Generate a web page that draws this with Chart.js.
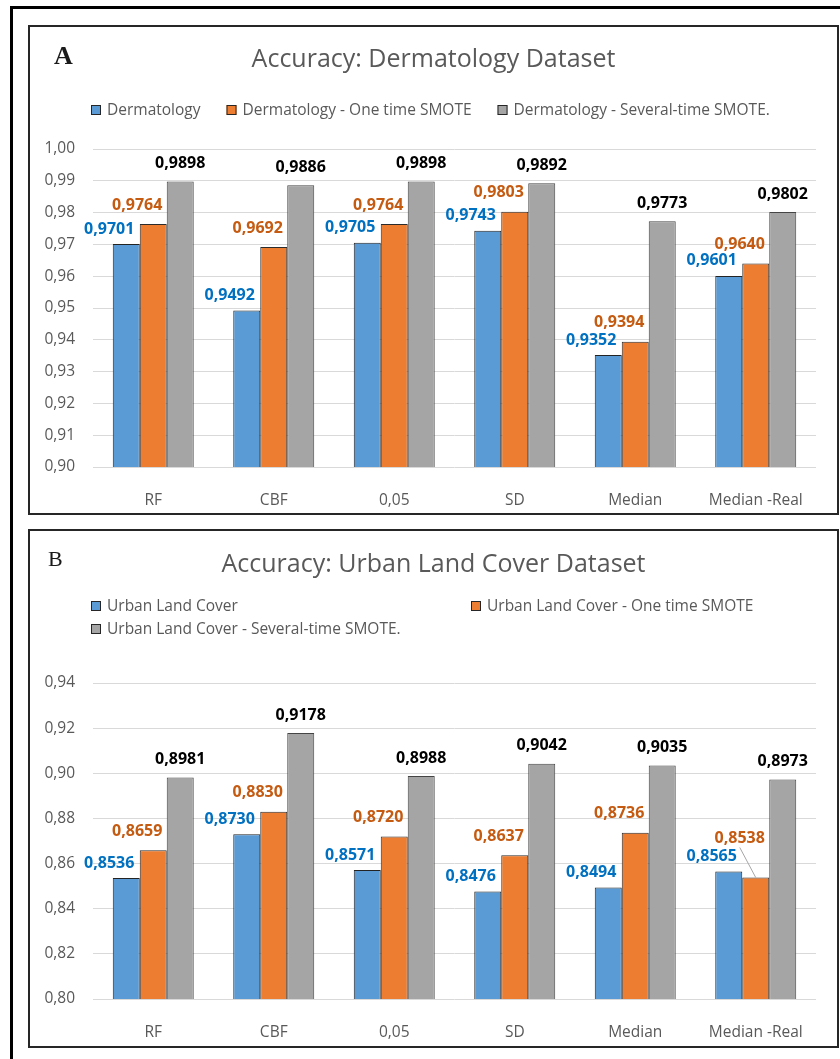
<!DOCTYPE html>
<html>
<head>
<meta charset="utf-8">
<title>Accuracy charts</title>
<script src="https://cdn.jsdelivr.net/npm/chart.js@4.4.1/dist/chart.umd.min.js"></script>
<style>
    body { margin: 0; background: #fff; width: 840px; height: 1059px; overflow: hidden; position: relative; }
    #frame { position: absolute; left: 10px; top: 6px; width: 900px; height: 1100px; border: 3px solid #000; }
    .panel { position: absolute; left: 28px; width: 811px; border: 2px solid #262626; box-sizing: border-box; background: #fff; }
    #panelA { top: 25px; height: 490px; }
    #panelB { top: 529px; height: 519px; }
    .tag { position: absolute; font-family: 'Liberation Serif', serif; color: #1a1a1a; line-height: 1; z-index: 2; }
    #tagA { left: 24px; top: 16px; font-size: 26px; font-weight: bold; }
    #tagB { left: 18px; top: 17px; font-size: 22px; }
    canvas { position: absolute; left: 0; top: 0; }
</style>
</head>
<body>
<div id="frame"></div>
<div class="panel" id="panelA">
    <div class="tag" id="tagA">A</div>
    <canvas id="chartA" width="807" height="486"></canvas>
</div>
<div class="panel" id="panelB">
    <div class="tag" id="tagB">B</div>
    <canvas id="chartB" width="807" height="515"></canvas>
</div>
<script>
// categories shared by both charts
const categories = ['RF', 'CBF', '0,05', 'SD', 'Median', 'Median -Real'];

// panel A - Dermatology
const dermaNames = ['Dermatology', 'Dermatology - One time SMOTE', 'Dermatology - Several-time SMOTE.'];
const dermaBase = [0.9701, 0.9492, 0.9705, 0.9743, 0.9352, 0.9601];
const dermaOnce = [0.9764, 0.9692, 0.9764, 0.9803, 0.9394, 0.9640];
const dermaSeveral = [0.9898, 0.9886, 0.9898, 0.9892, 0.9773, 0.9802];
const dermaTicks = [0.90, 0.91, 0.92, 0.93, 0.94, 0.95, 0.96, 0.97, 0.98, 0.99, 1.00];

// panel B - Urban Land Cover
const urbanNames = ['Urban Land Cover', 'Urban Land Cover - One time SMOTE', 'Urban Land Cover - Several-time SMOTE.'];
const urbanBase = [0.8536, 0.8730, 0.8571, 0.8476, 0.8494, 0.8565];
const urbanOnce = [0.8659, 0.8830, 0.8720, 0.8637, 0.8736, 0.8538];
const urbanSeveral = [0.8981, 0.9178, 0.8988, 0.9042, 0.9035, 0.8973];
const urbanTicks = [0.80, 0.82, 0.84, 0.86, 0.88, 0.90, 0.92, 0.94];

const fillColors = ['#5B9BD5', '#ED7D31', '#A5A5A5'];
const edgeColors = ['#232323', '#2b2b2b', '#454545'];
const labelColors = ['#0070C0', '#C55A11', '#000000'];
const FONT = "'Open Sans', sans-serif";

const comma = (v, d) => v.toFixed(d).replace('.', ',');

// value labels above each bar, pushed up when two of them collide
const barLabels = {
    id: 'barLabels',
    afterDatasetsDraw(chart, args, opts) {
        const ctx = chart.ctx;
        const h = opts.boxHeight;
        const placed = {};
        ctx.save();
        ctx.font = opts.font;
        ctx.textAlign = 'center';
        ctx.textBaseline = 'middle';
        chart.data.datasets.forEach((ds, di) => {
            const off = opts.offsets[di];
            chart.getDatasetMeta(di).data.forEach((bar, i) => {
                const text = comma(ds.data[i], 4);
                const w = ctx.measureText(text).width;
                const cx = bar.x + off.dx;
                let cy = bar.y + off.dy;
                let moved = false;
                const list = placed[i] || (placed[i] = []);
                list.forEach(r => {
                    if (Math.abs(cx - r.cx) < (w + r.w) / 2 && Math.abs(cy - r.cy) < h) {
                        cy = r.cy - h - 2;
                        moved = true;
                    }
                });
                list.push({ cx, cy, w });
                if (moved) {   // leader line back to the bar top
                    ctx.strokeStyle = '#a6a6a6';
                    ctx.lineWidth = 1;
                    ctx.beginPath();
                    ctx.moveTo(cx, cy + h / 2 + 1);
                    ctx.lineTo(bar.x, bar.y);
                    ctx.stroke();
                }
                ctx.fillStyle = labelColors[di];
                ctx.fillText(text, cx, cy);
            });
        });
        ctx.restore();
    }
};

// Excel-like legend: flowing row, or fixed columns
const panelLegend = {
    id: 'panelLegend',
    afterDraw(chart, args, opts) {
        const ctx = chart.ctx;
        ctx.save();
        ctx.font = opts.font;
        ctx.textAlign = 'left';
        ctx.textBaseline = 'middle';
        let x = opts.x, y = opts.y;
        chart.data.datasets.forEach((ds, i) => {
            if (opts.colX) {
                x = opts.colX[i % opts.colX.length];
                y = opts.y + Math.floor(i / opts.colX.length) * opts.rowHeight;
            }
            ctx.fillStyle = ds.backgroundColor;
            ctx.fillRect(x, y - 5, 10, 10);
            ctx.strokeStyle = '#262626';
            ctx.lineWidth = 1;
            ctx.strokeRect(x + 0.5, y - 4.5, 9, 9);
            ctx.fillStyle = '#595959';
            ctx.fillText(ds.label, x + 16, y + 1);
            x += 16 + ctx.measureText(ds.label).width + opts.gap;
        });
        ctx.restore();
    }
};

function createChart(id, title, names, series, ticks, lay) {
    const ctx = document.getElementById(id);
    return new Chart(ctx, {
        type: 'bar',
        data: {
            labels: categories,
            datasets: series.map((vals, i) => ({
                label: names[i],
                data: vals,
                backgroundColor: fillColors[i],
                borderColor: edgeColors[i],
                borderWidth: 1,
                categoryPercentage: 0.672,
                barPercentage: 1.0
            }))
        },
        options: {
            responsive: false,
            animation: false,
            devicePixelRatio: 1,
            layout: { padding: 0 },
            scales: {
                x: {
                    grid: { display: false },
                    border: { display: false },
                    ticks: { color: '#595959', padding: 16, font: { family: FONT, size: 15.5 } },
                    afterFit: axis => { axis.height = lay.xAxisHeight; }
                },
                y: {
                    min: ticks[0],
                    max: ticks[ticks.length - 1],
                    grid: { color: '#d9d9d9', drawTicks: false },
                    border: { display: false },
                    ticks: {
                        stepSize: ticks[1] - ticks[0],
                        padding: 18,
                        color: '#595959',
                        font: { family: FONT, size: 15.5 },
                        callback: v => comma(v, 2)
                    },
                    afterFit: axis => { axis.width = 63; }
                },
                // empty right-hand axis: just a margin, so the title stays centred on the panel
                yRight: {
                    type: 'linear',
                    position: 'right',
                    grid: { display: false },
                    border: { display: false },
                    ticks: { display: false },
                    afterFit: axis => { axis.width = 21; }
                }
            },
            plugins: {
                legend: { display: false },
                tooltip: { enabled: false },
                title: {
                    display: true,
                    text: title,
                    color: '#595959',
                    font: { family: FONT, size: 25, weight: 'normal', lineHeight: 1.2 },
                    padding: { top: lay.titleTop, bottom: lay.titleBottom }
                },
                barLabels: {
                    font: "bold 16px " + FONT,
                    boxHeight: 16,
                    offsets: [{ dx: -17, dy: -15 }, { dx: -16, dy: -19 }, { dx: 0, dy: -18 }]
                },
                panelLegend: lay.legend
            }
        },
        plugins: [barLabels, panelLegend]
    });
}

createChart('chartA', 'Accuracy: Dermatology Dataset', dermaNames,
    [dermaBase, dermaOnce, dermaSeveral], dermaTicks,
    { titleTop: 18, titleBottom: 74, xAxisHeight: 46,
      legend: { font: '15.5px ' + FONT, x: 61, y: 83, gap: 26 } });

createChart('chartB', 'Accuracy: Urban Land Cover Dataset', urbanNames,
    [urbanBase, urbanOnce, urbanSeveral], urbanTicks,
    { titleTop: 19, titleBottom: 103, xAxisHeight: 47,
      legend: { font: '15.5px ' + FONT, x: 61, y: 75, colX: [61, 441], rowHeight: 23, gap: 26 } });
</script>
</body>
</html>
